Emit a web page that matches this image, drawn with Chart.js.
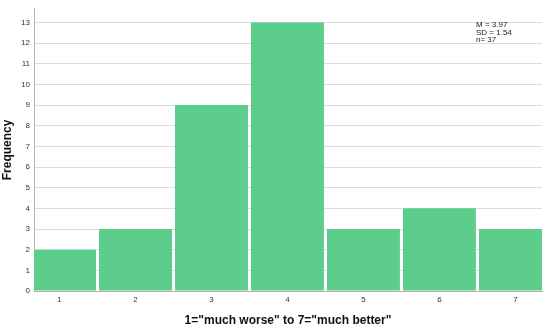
<!DOCTYPE html>
<html>
<head>
<meta charset="utf-8">
<script src="https://cdn.jsdelivr.net/npm/chart.js@4"></script>
<style>
  body { margin: 0; background: #fff; }
  #wrap { width: 550px; height: 328px; }
</style>
</head>
<body>
<div id="wrap"><canvas id="histChart" width="550" height="328"></canvas></div>
<script>
// ratings 1..7 and how many answered each
const ratings = [1, 2, 3, 4, 5, 6, 7];
const counts = [2, 3, 9, 13, 3, 4, 3];
const yTicks = [0, 1, 2, 3, 4, 5, 6, 7, 8, 9, 10, 11, 12, 13];
const statsLines = ["M = 3.97", "SD = 1.54", "n= 37"];

const xTitle = '1="much worse" to 7="much better"';
const yTitle = "Frequency";

// little stats box in the top right corner
const statsBox = {
  id: "statsBox",
  afterDraw(chart) {
    const ctx = chart.ctx;
    const area = chart.chartArea;
    ctx.save();
    ctx.font = "8px 'Liberation Sans', Arial, sans-serif";
    ctx.fillStyle = "#222";
    ctx.textBaseline = "middle";
    statsLines.forEach((line, i) => {
      ctx.fillText(line, area.right - 66, area.top + 16 + i * 7.5);
    });
    ctx.restore();
  }
};

const ctx = document.getElementById("histChart").getContext("2d");

new Chart(ctx, {
  type: "bar",
  data: {
    datasets: [{
      data: ratings.map((r, i) => ({ x: r, y: counts[i] })),
      backgroundColor: "#5ccd8a",
      borderWidth: 0,
      barPercentage: 0.96,
      categoryPercentage: 1
    }]
  },
  options: {
    responsive: false,
    animation: false,
    layout: { padding: { left: 0, right: 8, top: 7, bottom: 0 } },
    plugins: {
      legend: { display: false },
      tooltip: { enabled: false }
    },
    scales: {
      x: {
        type: "linear",
        offset: false,
        min: 0.664,
        max: 7.35,
        afterBuildTicks: axis => { axis.ticks = ratings.map(v => ({ value: v })); },
        afterFit: axis => { axis.height = 37; },
        grid: { display: false, drawTicks: false, offset: false },
        border: { display: true, color: "#b0b0b0", width: 1 },
        ticks: {
          color: "#333",
          font: { size: 8, family: "'Liberation Sans', Arial, sans-serif" },
          padding: 4,
          maxRotation: 0
        },
        title: {
          display: true,
          text: xTitle,
          color: "#111",
          font: { size: 12, weight: "bold", family: "'Liberation Sans', Arial, sans-serif" },
          padding: { top: 6, bottom: 0 }
        }
      },
      y: {
        min: 0,
        max: 13.66,
        afterBuildTicks: axis => { axis.ticks = yTicks.map(v => ({ value: v })); },
        afterFit: axis => { axis.width = 34; },
        grid: { color: "#dcdcdc", drawTicks: false, lineWidth: 1 },
        border: { display: true, color: "#b0b0b0", width: 1 },
        ticks: {
          color: "#333",
          font: { size: 8, family: "'Liberation Sans', Arial, sans-serif" },
          padding: 4
        },
        title: {
          display: true,
          text: yTitle,
          color: "#111",
          font: { size: 12, weight: "bold", family: "'Liberation Sans', Arial, sans-serif" },
          padding: { top: 0, bottom: 0 }
        }
      }
    }
  },
  plugins: [statsBox]
});
</script>
</body>
</html>
